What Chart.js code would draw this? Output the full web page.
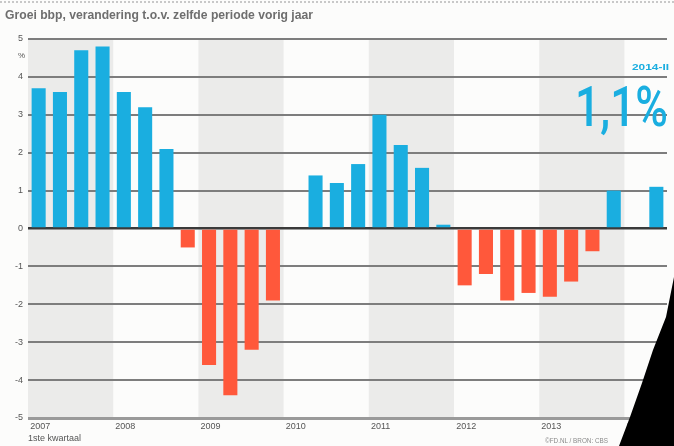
<!DOCTYPE html>
<html><head><meta charset="utf-8">
<script src="https://cdn.jsdelivr.net/npm/chart.js@4"></script>
<style>
html,body{margin:0;padding:0;background:#fcfcfb;}
#wrap{position:relative;width:674px;height:446px;overflow:hidden;font-family:"Liberation Sans",Arial,sans-serif;}
canvas{position:absolute;left:0;top:0;}
.t{position:absolute;white-space:nowrap;transform-origin:0 0;line-height:1;}
</style></head><body>
<div id="wrap">
<canvas id="c" width="674" height="446"></canvas>
<div style="position:absolute;left:0;top:1px;width:674px;border-top:2px dotted #c8c8c8;"></div>
<div class="t" id="title" data-w="308" style="left:5px;top:8px;font-size:13.5px;font-weight:bold;color:#6e6e6e;">Groei bbp, verandering t.o.v. zelfde periode vorig jaar</div>
<div class="t" id="pct" style="left:18px;top:52px;font-size:8px;color:#555;">%</div>
<div class="t" id="per" data-w="37" style="left:632px;top:63px;font-size:8.5px;font-weight:bold;color:#1aaee0;">2014-II</div>
<div class="t" id="big" data-w="93" style="left:575px;top:80px;font-size:55px;font-family:Roboto,'Open Sans',sans-serif;font-weight:500;color:#1aaee0;">1,1%</div>
<div class="t" id="src" data-w="63" style="left:545px;top:437px;font-size:7px;color:#8a8a8a;">©FD.NL / BRON: CBS</div>
</div>
<script>
// ---- data ----
const quarters = [
 "2007-I","2007-II","2007-III","2007-IV",
 "2008-I","2008-II","2008-III","2008-IV",
 "2009-I","2009-II","2009-III","2009-IV",
 "2010-I","2010-II","2010-III","2010-IV",
 "2011-I","2011-II","2011-III","2011-IV",
 "2012-I","2012-II","2012-III","2012-IV",
 "2013-I","2013-II","2013-III","2013-IV",
 "2014-I","2014-II"];
const growth = [
 3.7, 3.6, 4.7, 4.8,
 3.6, 3.2, 2.1, -0.5,
 -3.6, -4.4, -3.2, -1.9,
 null, 1.4, 1.2, 1.7,
 3.0, 2.2, 1.6, 0.1,
 -1.5, -1.2, -1.9, -1.7,
 -1.8, -1.4, -0.6, 1.0,
 null, 1.1];
const yearLabels = ["2007","2008","2009","2010","2011","2012","2013","2014"];
const shadedYears = ["2007","2009","2011","2013"];
const yTicks = [5,4,3,2,1,0,-1,-2,-3,-4,-5];

const BLUE = '#1aaee0', RED = '#ff583b';

document.querySelectorAll('.t[data-w]').forEach(el=>{
  const w = el.getBoundingClientRect().width;
  el.style.transform = 'scaleX(' + (parseFloat(el.dataset.w)/w) + ')';
});

const bgPlugin = {
  id:'bg',
  beforeDraw(chart){
    const {ctx, chartArea:a, scales:{x}} = chart;
    ctx.save();
    ctx.fillStyle = '#fcfcfb';
    ctx.fillRect(0,0,chart.width,chart.height);
    const slot = (x.getPixelForValue(1) - x.getPixelForValue(0));
    ctx.fillStyle = '#ebebea';
    shadedYears.forEach(y=>{
      const i0 = quarters.indexOf(y+'-I');
      const i3 = Math.min(i0+3, quarters.length-1);
      const x0 = x.getPixelForValue(i0) - slot/2;
      const x1 = x.getPixelForValue(i3) + slot/2;
      ctx.fillRect(x0, a.top, x1-x0, a.bottom-a.top);
    });
    ctx.restore();
  },
  afterDraw(chart){
    const ctx = chart.ctx;
    ctx.save();
    ctx.fillStyle = '#000';
    ctx.beginPath();
    ctx.moveTo(674,277);
    ctx.lineTo(666,317);
    ctx.lineTo(653,350);
    ctx.lineTo(642,383);
    ctx.lineTo(630,417);
    ctx.lineTo(619,446);
    ctx.lineTo(674,446);
    ctx.closePath();
    ctx.fill();
    ctx.restore();
  }
};

new Chart(document.getElementById('c'), {
  type:'bar',
  data:{
    labels: quarters,
    datasets:[{
      data: growth,
      backgroundColor: c => (c.raw !== null && c.raw < 0) ? RED : BLUE,
      borderWidth:0,
      barPercentage:0.66,
      categoryPercentage:1
    }]
  },
  options:{
    responsive:false,
    animation:false,
    layout:{padding:{left:5,right:7,top:39,bottom:0}},
    plugins:{legend:{display:false},tooltip:{enabled:false}},
    scales:{
      x:{
        offset:true,
        grid:{display:false, drawTicks:false},
        border:{display:false},
        ticks:{
          autoSkip:false, maxRotation:0, minRotation:0,
          align:'start', labelOffset:-8.5, padding:3,
          font:{size:9, family:'"Liberation Sans", Arial, sans-serif'}, color:'#555',
          callback:(v,i)=>{ const q = quarters[i]; return q.endsWith('-I') ? q.slice(0,4) : ''; }
        },
        title:{display:true, text:'1ste kwartaal', align:'start',
          font:{size:9, family:'"Liberation Sans", Arial, sans-serif'}, color:'#555', padding:{top:2,bottom:2}},
        afterFit:s=>{ s.height = 28; }
      },
      y:{
        min:-5, max:5,
        afterBuildTicks:s=>{ s.ticks = yTicks.map(v=>({value:v})); },
        grid:{
          drawTicks:false,
          color:c=> c.tick.value===0 ? '#3a3a3a' : (c.tick.value===-5 ? '#9a9a9a' : '#7d7d7d'),
          lineWidth:c=> c.tick.value===0 ? 2.5 : (c.tick.value===-5 ? 3 : 2)
        },
        border:{display:false},
        ticks:{padding:5, font:{size:9, family:'"Liberation Sans", Arial, sans-serif'}, color:'#555'},
        afterFit:s=>{ s.width = 23; }
      }
    }
  },
  plugins:[bgPlugin]
});
</script>
</body></html>
